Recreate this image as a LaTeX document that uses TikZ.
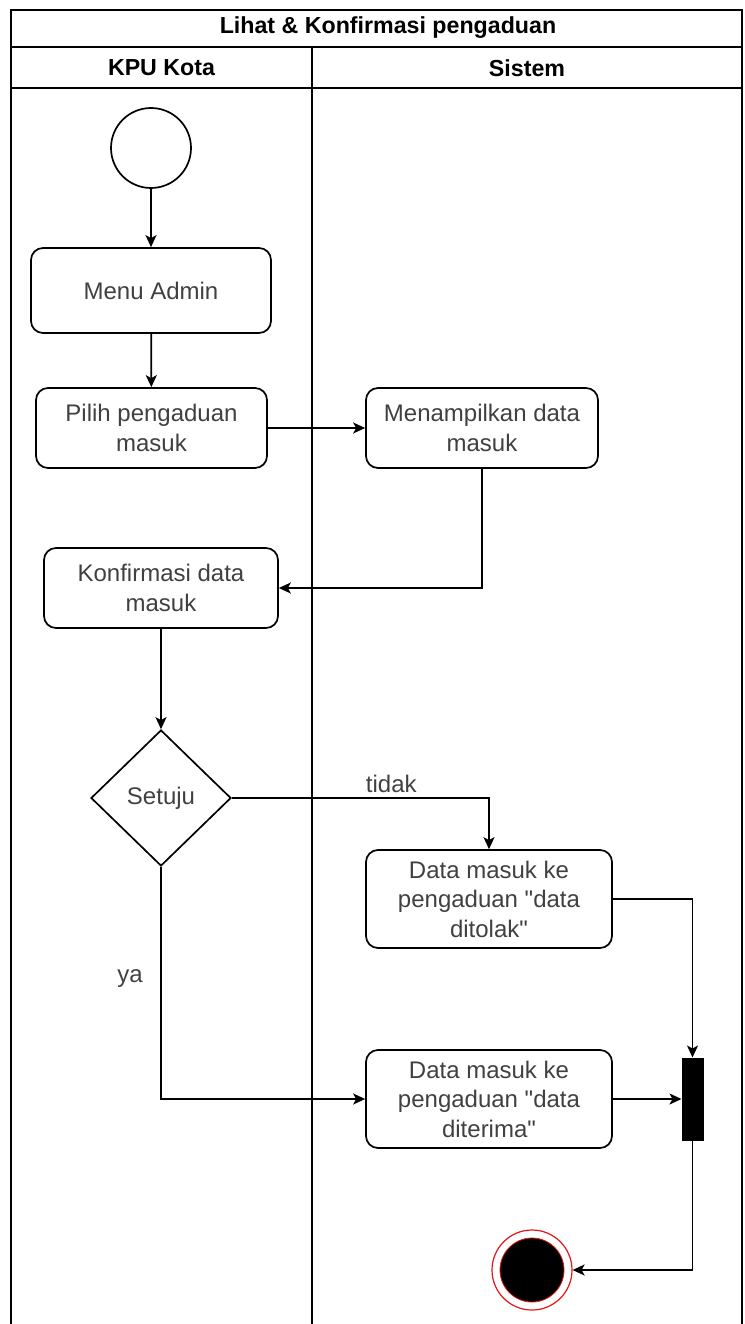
\documentclass[tikz,border=0pt]{standalone}
\usepackage{fontspec}
\setmainfont{Liberation Sans}
\usepackage{tikz}
\usetikzlibrary{shapes.geometric,arrows.meta}
\definecolor{txtgray}{RGB}{64,64,64}
\definecolor{endred}{RGB}{230,20,20}
\tikzset{
  act/.style={draw,rounded corners=12pt,line width=1.7pt,align=center,text=txtgray,
    font=\fontsize{24}{29.5}\selectfont,inner sep=0pt},
  flow/.style={line width=1.7pt,-{Stealth[length=12pt,width=11pt,inset=3pt]}},
  lane/.style={line width=1.7pt},
  lbl/.style={text=txtgray,font=\fontsize{24}{28}\selectfont}
}

\begin{document}
\begin{tikzpicture}[x=1pt,y=-1pt]
            \useasboundingbox (0,0) rectangle (744,1324);
            % swimlanes
            \draw[lane] (11,1324) -- (11,10) -- (742,10) -- (742,1324);
            \draw[lane] (11,47) -- (742,47);
            \draw[lane] (11,88) -- (742,88);
            \draw[lane] (312,47) -- (312,1324);
            \node[font=\fontsize{23.2}{27}\bfseries] (judul) at (388,28) {Lihat \& Konfirmasi pengaduan};
            \node[font=\fontsize{23.2}{27}\bfseries] (kpu) at (161.5,68) {KPU Kota};
            \node[font=\fontsize{23.2}{27}\bfseries] (sistem) at (527,68) {Sistem};
            % aktivitas
            \node[circle,draw,line width=1.7pt,minimum size=80pt,inner sep=0pt] (start) at (151,148){};
            \node[act,minimum width=240pt,minimum height=85pt] (menu) at (151,290.5){Menu Admin};
            \node[act,minimum width=231pt,minimum height=80pt] (pilih) at (151.5,428){Pilih pengaduan\\masuk};
            \node[act,minimum width=232pt,minimum height=80pt] (tampil) at (482,428){Menampilkan data\\masuk};
            \node[act,minimum width=234pt,minimum height=80pt] (konf) at (161,588){Konfirmasi data\\masuk};
            \node[diamond,draw,line width=1.7pt,minimum width=140pt,minimum height=136pt,inner sep=0pt,
                  text=txtgray,font=\fontsize{24}{28}\selectfont] (setuju) at (161,798){Setuju};
            \node[act,minimum width=246pt,minimum height=98pt] (tolak) at (489,899){Data masuk ke\\pengaduan \textquotedbl data\\ditolak\textquotedbl};
            \node[act,minimum width=246pt,minimum height=98pt] (terima) at (489,1099){Data masuk ke\\pengaduan \textquotedbl data\\diterima\textquotedbl};
            \node[rectangle,draw,fill=black,line width=1pt,minimum width=21pt,minimum height=82pt,inner sep=0pt] (bar) at (692.5,1099){};
            \node[circle,draw=endred,fill=white,line width=1.2pt,minimum size=80pt,inner sep=0pt] (end) at (532,1270){};
            \node[circle,draw=endred,fill=black,line width=0.8pt,minimum size=64pt,inner sep=0pt] (endcore) at (end){};
            % alur
            \draw[flow] (start) -- (menu);
            \draw[flow] (menu) -- (pilih);
            \draw[flow] (pilih) -- (tampil);
            \draw[flow] (tampil.south) |- (konf.east);
            \draw[flow] (konf) -- (setuju);
            \draw[flow] (setuju.east) -| node[lbl,pos=0.31,above=1pt]{tidak} (tolak.north);
            \draw[flow] (setuju.south) |- node[lbl,pos=0.24,left=14pt]{ya} (terima.west);
            \draw[flow] (tolak.east) -| (bar.north);
            \draw[flow] (terima) -- (bar);
            \draw[flow] (bar.south) |- (end.east);
        \end{tikzpicture}
\end{document}
